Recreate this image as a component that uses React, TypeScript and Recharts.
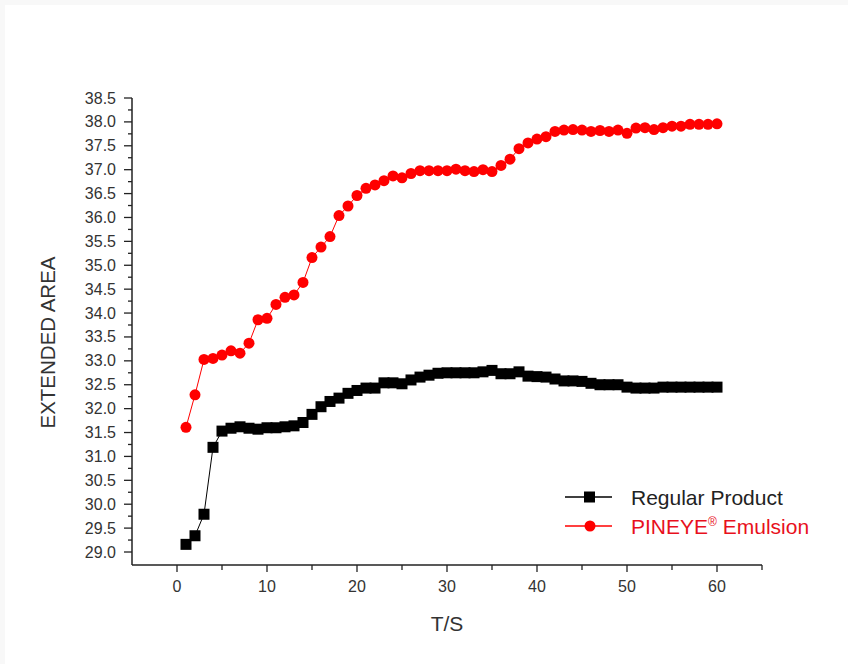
import { LineChart, Line, XAxis, YAxis, Legend, Label } from 'recharts';

const seconds = [
  1, 2, 3, 4, 5, 6, 7, 8, 9, 10, 11, 12, 13, 14, 15, 16, 17, 18, 19, 20,
  21, 22, 23, 24, 25, 26, 27, 28, 29, 30, 31, 32, 33, 34, 35, 36, 37, 38, 39, 40,
  41, 42, 43, 44, 45, 46, 47, 48, 49, 50, 51, 52, 53, 54, 55, 56, 57, 58, 59, 60,
];

const regularProduct = [
  29.16, 29.34, 29.79, 31.19, 31.53, 31.59, 31.62, 31.59, 31.57, 31.6,
  31.6, 31.62, 31.64, 31.71, 31.88, 32.04, 32.15, 32.22, 32.32, 32.38,
  32.43, 32.43, 32.54, 32.54, 32.52, 32.6, 32.66, 32.7, 32.74, 32.75,
  32.75, 32.75, 32.75, 32.77, 32.8, 32.73, 32.73, 32.77, 32.68, 32.67,
  32.66, 32.62, 32.58, 32.58, 32.57, 32.53, 32.5, 32.5, 32.5, 32.45,
  32.43, 32.43, 32.43, 32.45, 32.45, 32.45, 32.45, 32.45, 32.45, 32.45,
];

const pineyeEmulsion = [
  31.61, 32.29, 33.03, 33.05, 33.12, 33.21, 33.16, 33.37, 33.86, 33.89,
  34.18, 34.33, 34.38, 34.64, 35.16, 35.38, 35.6, 36.04, 36.24, 36.46,
  36.61, 36.68, 36.77, 36.87, 36.83, 36.92, 36.98, 36.98, 36.98, 36.98,
  37.01, 36.98, 36.96, 37.0, 36.96, 37.09, 37.22, 37.44, 37.56, 37.64,
  37.69, 37.8, 37.83, 37.84, 37.83, 37.8, 37.82, 37.8, 37.83, 37.76,
  37.87, 37.88, 37.84, 37.88, 37.91, 37.91, 37.95, 37.95, 37.95, 37.96,
];

const xTicks = [0, 5, 10, 15, 20, 25, 30, 35, 40, 45, 50, 55, 60, 65];
const xLabels = [0, 10, 20, 30, 40, 50, 60];

const yTicks = [
  29.0, 29.25, 29.5, 29.75, 30.0, 30.25, 30.5, 30.75, 31.0, 31.25,
  31.5, 31.75, 32.0, 32.25, 32.5, 32.75, 33.0, 33.25, 33.5, 33.75,
  34.0, 34.25, 34.5, 34.75, 35.0, 35.25, 35.5, 35.75, 36.0, 36.25,
  36.5, 36.75, 37.0, 37.25, 37.5, 37.75, 38.0, 38.25, 38.5,
];
const yLabels = [
  29.0, 29.5, 30.0, 30.5, 31.0, 31.5, 32.0, 32.5, 33.0, 33.5,
  34.0, 34.5, 35.0, 35.5, 36.0, 36.5, 37.0, 37.5, 38.0, 38.5,
];

const data = seconds.map((t, i) => ({
  t,
  regular: regularProduct[i],
  pineye: pineyeEmulsion[i],
}));

const FONT = "'Liberation Sans', Arial, sans-serif";
const TEXT = '#333';

const YTick = (props: any) => {
  const { x, y, payload } = props;
  const major = yLabels.includes(payload.value);
  return (
    <g>
      <line x1={x - (major ? 8 : 4)} x2={x} y1={y} y2={y} stroke="#222" strokeWidth={1.3} />
      {major && (
        <text x={x - 16} y={y} textAnchor="end" dominantBaseline="central" fontSize={16} fill={TEXT} fontFamily={FONT}>
          {payload.value.toFixed(1)}
        </text>
      )}
    </g>
  );
};

const XTick = (props: any) => {
  const { x, y, payload } = props;
  const major = xLabels.includes(payload.value);
  return (
    <g>
      <line x1={x} x2={x} y1={y} y2={y + (major ? 7 : 5)} stroke="#222" strokeWidth={1.3} />
      {major && (
        <text x={x} y={y + 21} textAnchor="middle" dominantBaseline="central" fontSize={16} fill={TEXT} fontFamily={FONT}>
          {payload.value}
        </text>
      )}
    </g>
  );
};

const SquareDot = (props: any) => {
  const { cx, cy, index } = props;
  if (cx == null || cy == null) return <g key={index} />;
  return <rect key={index} x={cx - 5.5} y={cy - 5.5} width={11} height={11} fill="#000" />;
};

const legendItems = [
  { name: 'Regular Product', color: '#000', textColor: '#222', shape: 'square' },
  { name: 'PINEYE', sup: '®', rest: ' Emulsion', color: '#ff0000', textColor: '#e8101c', shape: 'circle' },
];

const ChartLegend = () => (
  <svg width={270} height={60}>
    {legendItems.map((item, i) => {
      const cy = 13 + i * 29;
      return (
        <g key={item.name}>
          <line x1={0} x2={47} y1={cy} y2={cy} stroke={item.color} strokeWidth={1.5} />
          {item.shape === 'square' ? (
            <rect x={19} y={cy - 5.5} width={11} height={11} fill={item.color} />
          ) : (
            <circle cx={25} cy={cy} r={5.5} fill={item.color} />
          )}
          <text x={66} y={cy} dominantBaseline="central" fontSize={21} fill={item.textColor} fontFamily={FONT}>
            {item.name}
            {item.sup && (
              <tspan fontSize={12} dy={-4}>{item.sup}</tspan>
            )}
            {item.rest && <tspan dy={4}>{item.rest}</tspan>}
          </text>
        </g>
      );
    })}
  </svg>
);

export default function App() {
  return (
    <div style={{ position: 'absolute', left: 0, top: 0, width: 848, height: 664, background: '#f8f8f8' }}>
      <div style={{ position: 'absolute', left: 5, top: 5, width: 843, height: 659, background: '#fff' }} />
      <div style={{ position: 'absolute', left: 0, top: 0 }}>
        <LineChart width={848} height={664} data={data} margin={{ top: 98, right: 86, bottom: 39, left: 32 }}>
          <XAxis
            dataKey="t"
            type="number"
            domain={[-5, 65]}
            ticks={xTicks}
            interval={0}
            allowDataOverflow
            height={60}
            tickSize={0}
            tickMargin={0}
            tickLine={false}
            axisLine={{ stroke: '#222', strokeWidth: 1.5 }}
            tick={<XTick />}
          >
            <Label
              content={({ viewBox }: any) => (
                <text
                  x={viewBox.x + viewBox.width / 2}
                  y={viewBox.y + 58}
                  textAnchor="middle"
                  dominantBaseline="central"
                  fontSize={21}
                  fill={TEXT}
                  fontFamily={FONT}
                >
                  T/S
                </text>
              )}
            />
          </XAxis>
          <YAxis
            type="number"
            domain={[28.728, 38.5]}
            ticks={yTicks}
            interval={0}
            allowDataOverflow
            width={100}
            tickSize={0}
            tickMargin={0}
            tickLine={false}
            axisLine={{ stroke: '#222', strokeWidth: 1.5 }}
            tick={<YTick />}
          >
            <Label
              content={({ viewBox }: any) => {
                const cx = viewBox.x + 15;
                const cy = viewBox.y + viewBox.height / 2 + 11;
                return (
                  <text
                    x={cx}
                    y={cy}
                    transform={`rotate(-90 ${cx} ${cy})`}
                    textAnchor="middle"
                    dominantBaseline="central"
                    fontSize={20.5}
                    fill={TEXT}
                    fontFamily={FONT}
                  >
                    EXTENDED AREA
                  </text>
                );
              }}
            />
          </YAxis>
          <Legend
            layout="vertical"
            align="center"
            verticalAlign="middle"
            wrapperStyle={{ left: 565, top: 484, width: 270 }}
            content={() => <ChartLegend />}
          />
          <Line
            type="linear"
            dataKey="regular"
            name="Regular Product"
            stroke="#000"
            strokeWidth={1}
            dot={<SquareDot />}
            activeDot={false}
            isAnimationActive={false}
          />
          <Line
            type="linear"
            dataKey="pineye"
            name="PINEYE® Emulsion"
            stroke="#ff0000"
            strokeWidth={1}
            dot={{ r: 5.5, fill: '#ff0000', stroke: 'none' }}
            activeDot={false}
            isAnimationActive={false}
          />
        </LineChart>
      </div>
    </div>
  );
}
